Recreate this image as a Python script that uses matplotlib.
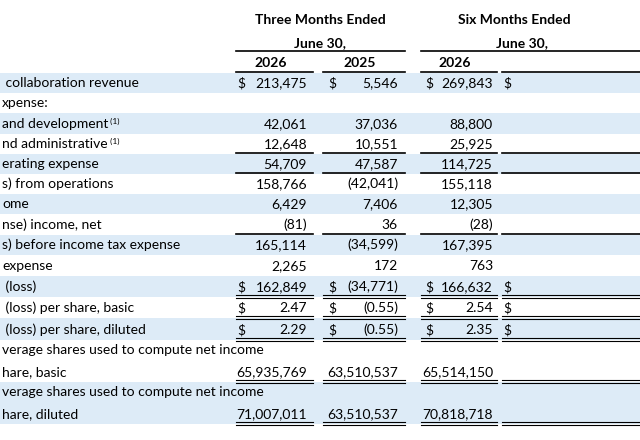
import matplotlib.pyplot as plt
from matplotlib.patches import Rectangle

plt.rcParams['font.family'] = ['Lato', 'DejaVu Sans']

labels = [" collaboration revenue", "xpense:", "and development", "nd administrative",
          "erating expense", "s) from operations", "ome", "nse) income, net",
          "s) before income tax expense", "expense", " (loss)", " (loss) per share, basic",
          " (loss) per share, diluted",
          "verage shares used to compute net income\nhare, basic",
          "verage shares used to compute net income\nhare, diluted"]
footnote = [False, False, True, True] + [False] * 11
q2_2026 = ["213,475", "", "42,061", "12,648", "54,709", "158,766", "6,429", "(81)",
           "165,114", "2,265", "162,849", "2.47", "2.29", "65,935,769", "71,007,011"]
q2_2025 = ["5,546", "", "37,036", "10,551", "47,587", "(42,041)", "7,406", "36",
           "(34,599)", "172", "(34,771)", "(0.55)", "(0.55)", "63,510,537", "63,510,537"]
h1_2026 = ["269,843", "", "88,800", "25,925", "114,725", "155,118", "12,305", "(28)",
           "167,395", "763", "166,632", "2.54", "2.35", "65,514,150", "70,818,718"]
dollar = [True] + [False] * 9 + [True, True, True, False, False]
# underline style below row: 0 none, 1 single, 2 double
under = [0, 0, 0, 1, 1, 0, 0, 1, 0, 0, 2, 2, 2, 2, 2]

row_top = [73, 93, 113, 134, 154, 174, 194, 214, 235, 255, 276, 297, 318, 340, 382]
row_h = [20, 20, 21, 20, 20, 20, 20, 21, 20, 21, 21, 21, 22, 42, 42]
band = [True, False, True, False, True, False, True, False, True, False, True, False, True, False, True]

fig = plt.figure(figsize=(6.4, 4.4), dpi=100)
ax = fig.add_axes([0, 0, 1, 1])
ax.set_xlim(0, 640)
ax.set_ylim(440, 0)
ax.axis('off')

cols = [(236, 313, 237, 307), (323, 405, 328, 398), (421, 497, 425, 493), (502, 700, 503, None)]
fs = 10
txt = '#000000'

# headers
ax.text(320, 20, "Three Months Ended", ha='center', va='center', fontsize=fs, fontweight='bold')
ax.text(320, 43, "June 30,", ha='center', va='center', fontsize=fs, fontweight='bold')
ax.text(458, 20, "Six Months Ended", ha='left', va='center', fontsize=fs, fontweight='bold')
ax.text(496, 43, "June 30,", ha='left', va='center', fontsize=fs, fontweight='bold')
ax.plot([236, 405], [51, 51], color='black', lw=1.2)
ax.plot([421, 640], [51, 51], color='black', lw=1.2)
for (x0, x1, _, _), yr in zip(cols[:3], ["2026", "2025", "2026"]):
    ax.text((x0 + x1) / 2 - 4, 63, yr, ha='center', va='center', fontsize=fs, fontweight='bold')
for x0, x1, _, _ in cols:
    ax.plot([x0, x1], [72, 72], color='black', lw=1.2)

for i, lab in enumerate(labels):
    top, h = row_top[i], row_h[i]
    if band[i]:
        ax.add_patch(Rectangle((0, top), 640, h, color='#DDEBF7', lw=0, zorder=0))
    cy = top + h - 10
    if "\n" in lab:
        l1, l2 = lab.split("\n")
        ax.text(2, top + 10, l1, ha='left', va='center', fontsize=fs, color=txt)
        ax.text(2, cy, l2, ha='left', va='center', fontsize=fs, color=txt)
    else:
        t = ax.text(2, cy, lab, ha='left', va='center', fontsize=fs, color=txt)
        if footnote[i]:
            ax.annotate(" (1)", xy=(1, 1), xycoords=t, fontsize=6, va='top', ha='left')
    for (x0, x1, xd, xv), vals in zip(cols, [q2_2026, q2_2025, h1_2026, None]):
        if dollar[i]:
            ax.text(xd, cy, "$", ha='left', va='center', fontsize=fs)
        if vals is not None and vals[i]:
            ax.text(xv, cy, vals[i], ha='right', va='center', fontsize=fs)
        yb = top + h - 0.5
        if under[i] == 1:
            ax.plot([x0, x1], [yb, yb], color='black', lw=1.2)
        elif under[i] == 2:
            ax.plot([x0, x1], [yb - 1, yb - 1], color='black', lw=0.8)
            ax.plot([x0, x1], [yb + 1.5, yb + 1.5], color='black', lw=0.8)

fig.savefig("out.png", dpi=100)
